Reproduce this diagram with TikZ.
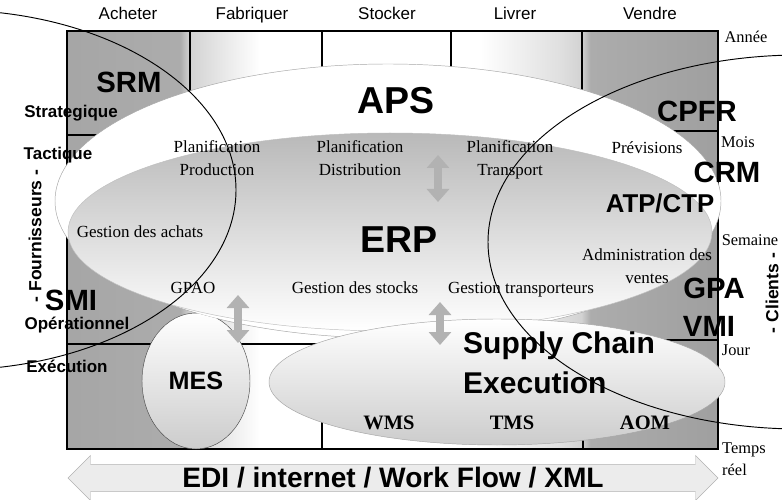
\documentclass[tikz,border=0pt]{standalone}
\usepackage{fontspec}
\setmainfont{Liberation Serif}
\setsansfont{Liberation Sans}
\usetikzlibrary{shapes.arrows}
\usetikzlibrary{arrows.meta}
\newcommand{\taille}[2]{\fontsize{#1}{#2}\selectfont}

\pgfdeclarehorizontalshading{bandes}{100bp}{color(0bp)=(gray!70); color(25bp)=(gray!70); color(33.7bp)=(gray!65); color(34.4bp)=(gray!35); color(39.8bp)=(white); color(56.7bp)=(white); color(62.9bp)=(gray!25); color(64.5bp)=(gray!35); color(65.2bp)=(gray!65); color(75bp)=(gray!75); color(100bp)=(gray!75)}

\begin{document}
\begin{tikzpicture}[x=0.3mm,y=-0.3mm,
entete/.style={font=\sffamily\taille{14.5}{17},anchor=base},
niveau/.style={font=\sffamily\bfseries\taille{14.5}{17}},
gros/.style={font=\sffamily\bfseries\taille{25}{28}},
enorme/.style={font=\sffamily\bfseries\taille{32}{36}},
fonction/.style={font=\rmfamily\taille{14.5}{19.5},align=center},
horizon/.style={font=\rmfamily\taille{14}{19},align=left},
outil/.style={font=\rmfamily\bfseries\taille{17.5}{20}},
acteur/.style={font=\sffamily\bfseries\taille{15}{18},rotate=90},
fleche/.style={draw=gray!60,line width=2.4mm,{Triangle[width=6.6mm,length=3.9mm]}-{Triangle[width=6.6mm,length=3.9mm]}},
trait/.style={draw=black,line width=1.2pt}]

\useasboundingbox (0,0) rectangle (782,500);

\pgfmathsetmacro{\gauche}{67}
\pgfmathsetmacro{\droite}{718}
\pgfmathsetmacro{\haut}{31}
\pgfmathsetmacro{\bas}{449}

% fond et colonnes
\shade[shading=bandes] (\gauche,\haut) rectangle (\droite,\bas);
\draw[trait] (\gauche,\haut) rectangle (\droite,\bas);
\foreach \x in {190,322,451,582}
  \draw[trait] (\x,\haut)--(\x,150);
\draw[trait] (\gauche,135)--(120,135);
\draw[trait] (660,131)--(\droite,131);
\draw[trait] (\gauche,344)--(330,344);
\draw[trait] (640,340)--(\droite,340);
\draw[trait] (322,400)--(322,\bas);
\draw[trait] (583,420)--(583,\bas);

% APS, ERP, MES, SCE
\filldraw[fill=white,draw=gray!70,thin] (388,201) ellipse [x radius=333,y radius=137];
\shadedraw[top color=gray!55,middle color=gray!25,bottom color=white,draw=gray!50,thin] (390,232) ellipse [x radius=322,y radius=99];
\begin{scope}[even odd rule]
\clip (0,0) rectangle (782,500) (388,201) ellipse [x radius=333,y radius=137];
\shadedraw[top color=white,bottom color=gray!40,draw=black!70,thin] (196,381) ellipse [x radius=54,y radius=68];
\end{scope}
\shadedraw[top color=white,bottom color=gray!40,draw=gray!70,thin] (497,382) ellipse [x radius=228,y radius=63];

% fournisseurs et clients
\begin{scope}
\clip (0,0) rectangle (782,500);
\draw[line width=0.8pt] (-50,190) ellipse [x radius=286,y radius=180];
\draw[line width=0.8pt] (800,242) ellipse [x radius=312,y radius=187];
\end{scope}

\coordinate (f1-haut) at (438,155);
\coordinate (f1-bas) at (438,202);
\coordinate (f2-haut) at (238,295);
\coordinate (f2-bas) at (238,343);
\coordinate (f3-haut) at (440,302);
\coordinate (f3-bas) at (440,345);
\draw[fleche] (f1-haut)--(f1-bas);
\draw[fleche] (f2-haut)--(f2-bas);
\draw[fleche] (f3-haut)--(f3-bas);

\node[entete](acheter) at (128,20){Acheter};
\node[entete](fabriquer) at (252,20){Fabriquer};
\node[entete](stocker) at (387,20){Stocker};
\node[entete](livrer) at (515,20){Livrer};
\node[entete](vendre) at (650,20){Vendre};

\node[horizon](annee) at (746,37){Année};
\node[horizon](mois) at (738,142){Mois};
\node[horizon](semaine) at (750,240){Semaine};
\node[horizon](jour) at (736,350){Jour};
\node[horizon,anchor=west,inner xsep=0pt](temps) at (722,459){Temps\\réel};

\node[niveau](strat) at (71,113){Strategique};
\node[niveau](tact) at (58,155){Tactique};
\node[niveau](oper) at (77,325){Opérationnel};
\node[niveau](exec) at (67,366){Exécution};

\node[acteur](fourn) at (35,236){- Fournisseurs -};
\node[acteur](clients) at (772,293){- Clients -};

\node[gros](srm) at (129,82){SRM};
\node[enorme](aps) at (396,101){APS};
\node[gros](cpfr) at (697,111){CPFR};
\node[gros](crm) at (727,172){CRM};
\node[gros,font=\sffamily\bfseries\taille{22}{24}](atp) at (660,203){ATP/CTP};
\node[enorme](erp) at (399,240){ERP};
\node[gros](smi) at (71,300){SMI};
\node[gros](gpa) at (714,288){GPA};
\node[gros](vmi) at (709,326){VMI};
\node[gros,font=\sffamily\bfseries\taille{21.5}{24}](mes) at (196,381){MES};
\node[gros,anchor=west,align=left,inner xsep=0pt,font=\sffamily\bfseries\taille{25.6}{34}](sce) at (463,363){Supply Chain\\Execution};

\node[fonction](plan-prod) at (217,158){Planification\\Production};
\node[fonction](plan-dist) at (360,158){Planification\\Distribution};
\node[fonction](plan-trans) at (510,160){Planification\\Transport};
\node[fonction](previsions) at (647,148){Prévisions};
\node[fonction](achats) at (140,232){Gestion des achats};
\node[fonction](admin) at (647,266){Administration des\\ventes};
\node[fonction,anchor=base](gpao) at (193,293){GPAO};
\node[fonction,anchor=base](stocks) at (355,293){Gestion des stocks};
\node[fonction,anchor=base](transp) at (521,293){Gestion transporteurs};

\node[outil](wms) at (389,423){WMS};
\node[outil](tms) at (512,423){TMS};
\node[outil](aom) at (645,423){AOM};

\node[double arrow,draw=gray!60,fill=gray!15,minimum height=195mm,minimum width=13.5mm,double arrow head extend=2.1mm,inner sep=0pt,font=\sffamily\bfseries\taille{24}{28}](edi) at (393,478){EDI / internet / Work Flow / XML};

\end{tikzpicture}
\end{document}
